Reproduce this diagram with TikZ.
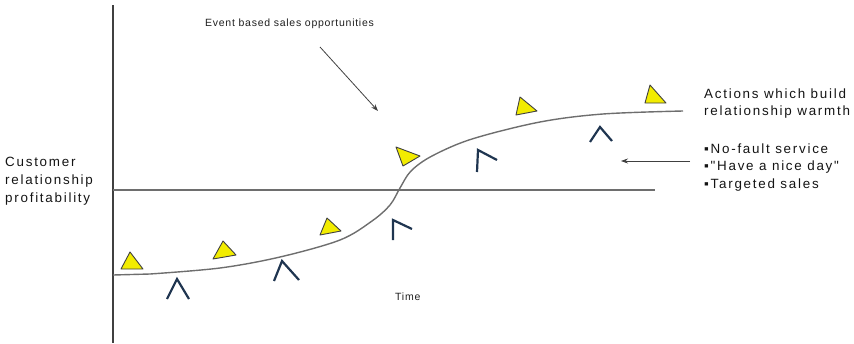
\documentclass[tikz,border=0pt]{standalone}
\usepackage{fontspec}
\setmainfont{Liberation Sans}
\newfontfamily\lbl[LetterSpace=13]{Liberation Sans}
\newfontfamily\smalllbl[LetterSpace=7]{Liberation Sans}
\usetikzlibrary{arrows.meta}
\definecolor{caretblue}{HTML}{1F3550}
\definecolor{triyellow}{HTML}{F2EC00}
\definecolor{curvegray}{HTML}{6E6E6E}
\tikzset{
  lbltext/.style={anchor=base west, inner sep=0pt, font=\lbl\fontsize{13.4}{17}\selectfont, text=black!92},
  smalltext/.style={anchor=base west, inner sep=0pt, font=\smalllbl\fontsize{10.5}{12}\selectfont, text=black!88},
  tri/.style={fill=triyellow, draw=black!75, line width=0.9pt, line join=round},
  caret/.style={draw=caretblue, line width=2.2pt},
  pointer/.style={draw=black!75, line width=0.8pt, -{Stealth[length=7pt,width=5pt]}},
}
\begin{document}
\begin{tikzpicture}[x=1pt,y=-1pt]
\useasboundingbox (0,0) rectangle (854,343);
% axes
\coordinate (axtop) at (113,5);
\coordinate (axbot) at (113,343);
\draw[black!75, line width=1.8pt] (axtop) -- (axbot);
\coordinate (hl) at (113,190);
\coordinate (hr) at (655,190);
\draw[curvegray, line width=1.4pt] (hl) -- (hr);
% curve
\draw[curvegray, line width=1.4pt] (113,275) -- (150,274)
  plot[smooth, tension=0.55] coordinates {(150,274) (220,268) (280,257) (340,240) (372,221) (390,205) (400,188) (411,171) (432,156) (472,139) (540,122) (603,114) (683,111)};
% triangles
\draw[tri] (130,252) -- (121,269) -- (143,269) -- cycle;
\draw[tri] (223,241) -- (213,259) -- (236,255) -- cycle;
\draw[tri] (327,218) -- (320,235) -- (341,231) -- cycle;
\draw[tri] (396,147) -- (420,156) -- (403,166) -- cycle;
\draw[tri] (520,97) -- (516,115) -- (537,111) -- cycle;
\draw[tri] (650,85) -- (645,103) -- (666,103) -- cycle;
% carets
\draw[caret] (167,299) -- (177,279) -- (189,299);
\draw[caret] (274,281) -- (282,261) -- (299,280);
\draw[caret] (393,240) -- (393,220) -- (412,229);
\draw[caret] (477,172) -- (478,150) -- (497,160);
\draw[caret] (590,142) -- (600,127) -- (612,141);
% arrows
\coordinate (evs) at (320,47);
\coordinate (eve) at (378,111);
\draw[pointer] (evs) -- (eve);
\coordinate (acs) at (690,161);
\coordinate (ace) at (621,161);
\draw[pointer] (acs) -- (ace);
% texts
\node[smalltext] (ev) at (205,26.5) {Event based sales opportunities};
\node[smalltext] (time) at (395,300) {Time};
\node[lbltext] (y1) at (5,166) {Customer};
\node[lbltext] (y2) at (5,184) {relationship};
\node[lbltext] (y3) at (5,202) {profitability};
\node[lbltext] (a1) at (704,98) {Actions which build};
\node[lbltext] (a2) at (704,115) {relationship warmth};
\node[lbltext] (b1) at (704,153) {▪No-fault service};
\node[lbltext] (b2) at (704,170.5) {▪"Have a nice day"};
\node[lbltext] (b3) at (704,188) {▪Targeted sales};
\end{tikzpicture}
\end{document}
